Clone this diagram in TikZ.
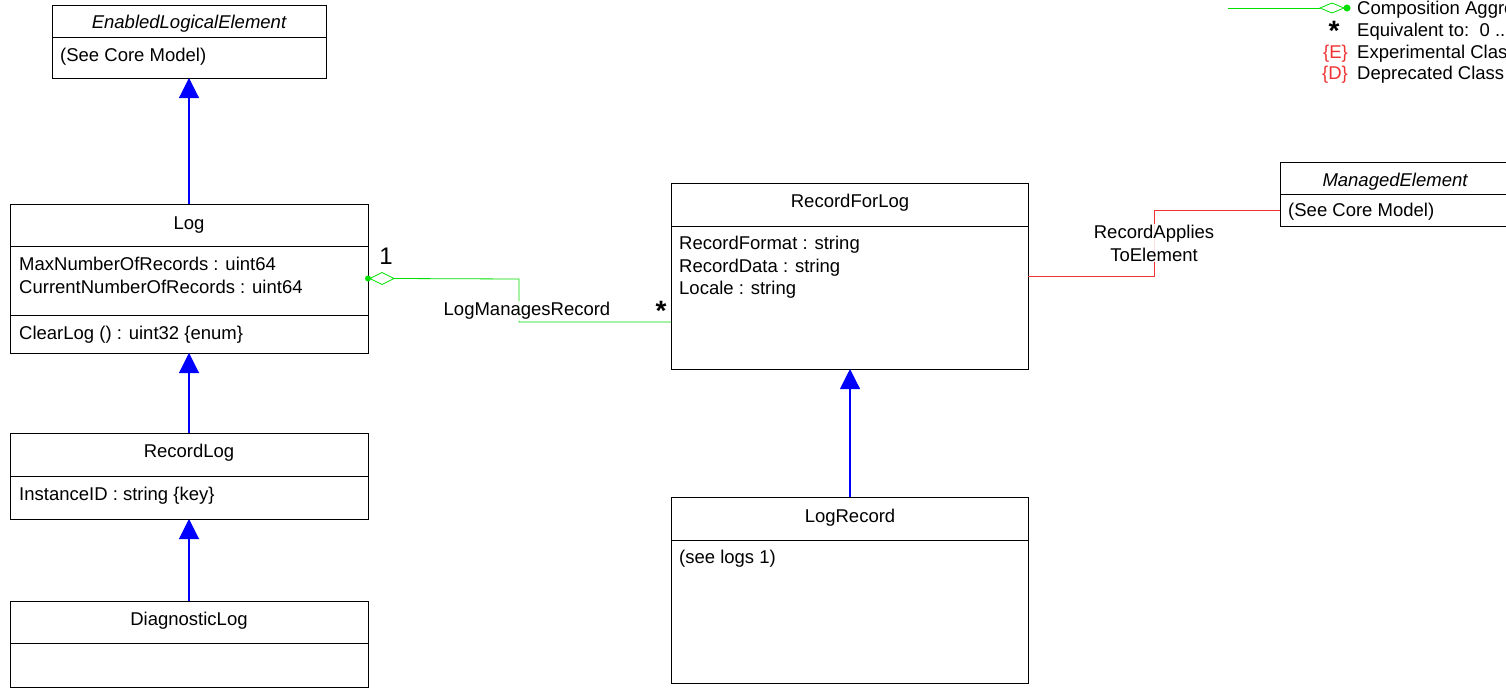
\documentclass[tikz,border=0pt]{standalone}
\usepackage{fontspec}
\setmainfont{Liberation Sans}
\usetikzlibrary{arrows.meta,calc}
\definecolor{umlgreen}{RGB}{0,224,0}
\definecolor{umlred}{RGB}{240,50,50}
\definecolor{umlblue}{RGB}{0,0,255}
\begin{document}
\begin{tikzpicture}[x=1pt,y=-1pt,
  font=\fontsize{18.5}{23}\selectfont,
  cls/.style={draw=black, line width=0.8pt, anchor=north west, inner sep=0pt, outer sep=0pt},
  sep/.style={draw=black, line width=0.8pt},
  txt/.style={anchor=west, inner sep=0pt, text height=13pt, text depth=4pt, yshift=-1.5pt},
  ttl/.style={inner sep=0pt, text height=13pt, text depth=4pt, yshift=-1.5pt},
  inh/.style={draw=umlblue, fill=umlblue, line width=1.1pt, -{Triangle[width=20pt,length=20pt]}},
  agg/.style={color=umlgreen, line width=0.8pt},
  rel/.style={color=umlred, line width=0.8pt},
  lbl/.style={inner sep=1pt, fill=white, fill opacity=0.85, text opacity=1, align=center},
  redtxt/.style={anchor=east, inner sep=0pt, text=umlred, text height=13pt, text depth=4pt, yshift=-1.5pt},
  mult/.style={inner sep=0pt, font=\fontsize{28}{28}\selectfont\bfseries}
]
\useasboundingbox (0,0) rectangle (1506,688);
\clip (0,0) rectangle (1506,688);

% ---- EnabledLogicalElement
\node[cls, minimum width=274pt, minimum height=73pt] (ele) at (52,5) {};
\draw[sep] (52,37) -- (326,37);
\node[ttl] (eleT) at (189,22) {\itshape EnabledLogicalElement};
\node[txt] (eleA) at (60,55) {(See Core Model)};

% ---- Log
\node[cls, minimum width=358pt, minimum height=149pt] (log) at (10,204) {};
\draw[sep] (10,246) -- (368,246);
\draw[sep] (10,315) -- (368,315);
\node[ttl] (logT) at (189,223) {Log};
\node[txt] (logA1) at (19,264) {MaxNumberOfRecords : uint64};
\node[txt] (logA2) at (19,287) {CurrentNumberOfRecords : uint64};
\node[txt] (logM1) at (19,333) {ClearLog () : uint32 \{enum\}};

% ---- RecordLog
\node[cls, minimum width=358pt, minimum height=86pt] (rlog) at (10,433) {};
\draw[sep] (10,476) -- (368,476);
\node[ttl] (rlogT) at (189,451) {RecordLog};
\node[txt] (rlogA1) at (19,494) {InstanceID : string \{key\}};

% ---- DiagnosticLog
\node[cls, minimum width=358pt, minimum height=86pt] (dlog) at (10,601) {};
\draw[sep] (10,643) -- (368,643);
\node[ttl] (dlogT) at (189,619) {DiagnosticLog};

% ---- RecordForLog
\node[cls, minimum width=357pt, minimum height=186pt] (rfl) at (671,183) {};
\draw[sep] (671,226) -- (1028,226);
\node[ttl] (rflT) at (850,201) {RecordForLog};
\node[txt] (rflA1) at (679,243) {RecordFormat : string};
\node[txt] (rflA2) at (679,266) {RecordData : string};
\node[txt] (rflA3) at (679,288) {Locale : string};

% ---- LogRecord
\node[cls, minimum width=357pt, minimum height=186pt] (lrec) at (671,497) {};
\draw[sep] (671,540) -- (1028,540);
\node[ttl] (lrecT) at (850,516) {LogRecord};
\node[txt] (lrecA1) at (679,557) {(see logs 1)};

% ---- ManagedElement
\node[cls, minimum width=232pt, minimum height=64pt] (me) at (1280,162) {};
\draw[sep] (1280,194) -- (1512,194);
\node[ttl] (meT) at (1395,180) {\itshape ManagedElement};
\node[txt] (meA) at (1288,210) {(See Core Model)};

% ---- inheritance
\draw[inh] (log.north) -- (ele.south);
\draw[inh] (rlog.north) -- (log.south);
\draw[inh] (dlog.north) -- (rlog.south);
\draw[inh] ([xshift=0.5pt]lrec.north) -- ([xshift=0.5pt]rfl.south);

% ---- LogManagesRecord (aggregation)
\coordinate (aggS) at ($(log.east)+(26,0)$);
\coordinate (aggB) at (519,279);
\coordinate (aggC) at (519,322);
\coordinate (aggE) at (671,322);
\draw[agg] (aggS) -- (aggB) -- (aggC) -- (aggE);
\draw[agg, fill=white] (log.east) ++(2,0) -- ++(12,-6) -- ++(12,6) -- ++(-12,6) -- cycle;
\fill[umlgreen] (log.east) circle (3pt);
\node[lbl] (lmr) at (527,311) {LogManagesRecord};
\node[inner sep=0pt, font=\fontsize{24}{24}\selectfont] (one) at (386,256) {1};
\node[mult] (star) at (661,311) {*};

% ---- RecordAppliesToElement
\coordinate (raB) at (1154,276);
\coordinate (raC) at (1154,210);
\coordinate (raE) at (1280,210);
\draw[rel] (rfl.east) -- (raB) -- (raC) -- (raE);
\node[lbl] (rate) at (1154,243) {RecordApplies\\ToElement};

% ---- legend
\coordinate (lgA) at (1228,8);
\coordinate (lgB) at (1320,8);
\draw[agg] (lgA) -- (lgB);
\draw[agg, fill=white] (lgB) -- ++(12,-5) -- ++(12,5) -- ++(-12,5) -- cycle;
\fill[umlgreen] (1347,8) circle (3.5pt);
\node[txt] (lg1) at (1357,8) {Composition Aggregation};
\node[mult] (lgstar) at (1334,31) {*};
\node[txt] (lg2) at (1357,30) {Equivalent to:\ \ 0 .. *};
\node[redtxt] (lgE) at (1348,52) {\{E\}};
\node[txt] (lg3) at (1357,52) {Experimental Class};
\node[redtxt] (lgD) at (1348,73) {\{D\}};
\node[txt] (lg4) at (1357,73) {Deprecated Class};
\end{tikzpicture}
\end{document}
